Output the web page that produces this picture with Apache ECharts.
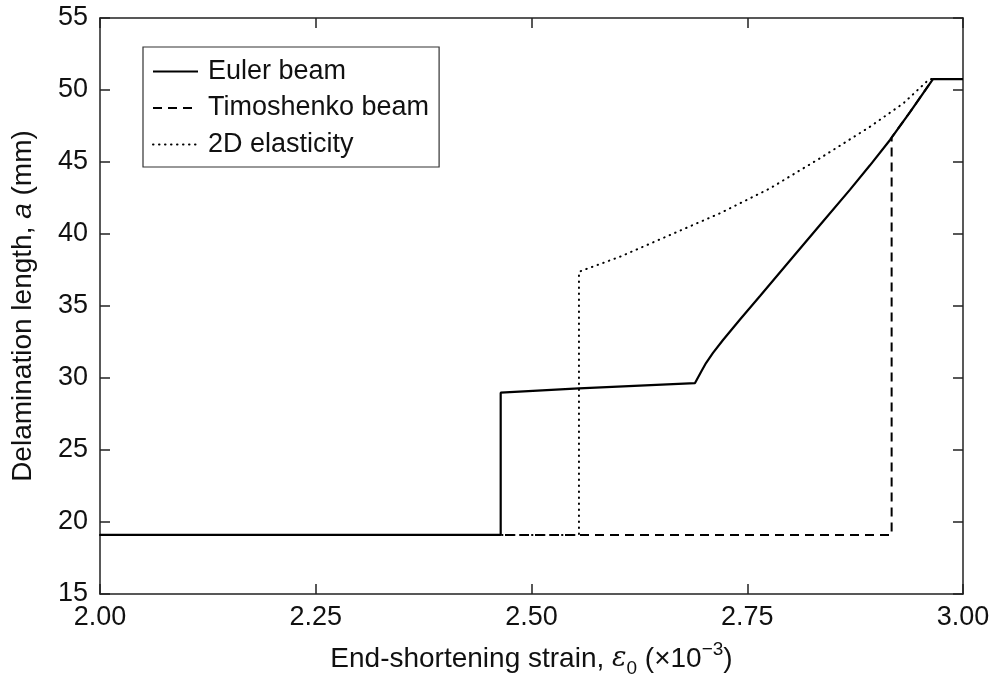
<!DOCTYPE html>
<html>
<head>
<meta charset="utf-8">
<script src="https://cdn.jsdelivr.net/npm/echarts@6/dist/echarts.min.js"></script>
<style>html,body{margin:0;padding:0;background:#fff}#c{width:995px;height:682px}</style>
</head>
<body>
<div id="c"></div>
<script>
// ---- data ----
var seriesNames = ['Euler beam', 'Timoshenko beam', '2D elasticity'];
var eulerX = [2.00, 2.4643, 2.4643, 2.555, 2.6895, 2.6964, 2.7022, 2.7103, 2.7219, 2.7416, 2.7648, 2.7995, 2.8343, 2.8691, 2.8922, 2.9154, 2.9386, 2.9652, 3.00];
var eulerY = [19.1, 19.1, 28.98, 29.28, 29.65, 30.42, 31.04, 31.74, 32.64, 34.06, 35.69, 38.16, 40.63, 43.08, 44.77, 46.53, 48.47, 50.76, 50.76];
var timoX = [2.00, 2.9173, 2.9173, 2.9386, 2.9652, 3.00];
var timoY = [19.1, 19.1, 46.70, 48.47, 50.76, 50.76];
var elasX = [2.00, 2.555, 2.555, 2.6025, 2.6605, 2.7184, 2.7764, 2.8343, 2.8922, 2.9308, 2.9598, 2.963, 3.00];
var elasY = [19.1, 19.1, 37.38, 38.42, 39.93, 41.44, 43.17, 45.26, 47.45, 49.07, 50.69, 50.76, 50.76];
var xTickLabels = ['2.00', '2.25', '2.50', '2.75', '3.00'];
var yTickLabels = ['15', '20', '25', '30', '35', '40', '45', '50', '55'];

function pairs(xs, ys) { return xs.map(function (x, i) { return [x, ys[i]]; }); }

var FONT = 'Liberation Sans';
var axisCol = '#222';
var chart = echarts.init(document.getElementById('c'), null, { renderer: 'canvas' });

var baseX = {
  type: 'value', min: 2.0, max: 3.0, interval: 0.25,
  axisLine: { show: true, onZero: false, lineStyle: { color: axisCol, width: 1.5 } },
  axisTick: { show: true, inside: true, length: 10, lineStyle: { color: axisCol, width: 1.5 } },
  splitLine: { show: false }
};
var baseY = {
  type: 'value', min: 15, max: 55, interval: 5,
  axisLine: { show: true, onZero: false, lineStyle: { color: axisCol, width: 1.5 } },
  axisTick: { show: true, inside: true, length: 10, lineStyle: { color: axisCol, width: 1.5 } },
  splitLine: { show: false }
};

var option = {
  animation: false,
  backgroundColor: '#fff',
  color: ['#000', '#000', '#000'],
  grid: { left: 100, top: 18, right: 32, bottom: 88, containLabel: false, outerBoundsMode: 'none' },
  legend: {
    orient: 'vertical', left: 143, top: 47,
    backgroundColor: '#fff',
    borderColor: '#333', borderWidth: 1.2, borderRadius: 0,
    padding: [11, 10, 9, 9],
    itemWidth: 45, itemHeight: 22, itemGap: 9.5,
    itemStyle: { color: 'rgba(0,0,0,0)', borderColor: 'rgba(0,0,0,0)', borderWidth: 0 },
    textStyle: { fontFamily: FONT, fontSize: 27, color: '#111', padding: [0, 0, 0, 5] },
    data: seriesNames
  },
  xAxis: [
    Object.assign({}, baseX, {
      position: 'bottom',
      axisLabel: {
        show: true, margin: 10, fontFamily: FONT, fontSize: 27, color: '#111',
        formatter: function (v) { return xTickLabels[Math.round((v - 2.0) / 0.25)]; }
      },
      name: '{t|End-shortening strain, }{i|ε}{s|0}{t| (×10}{p|−3}{t|)}',
      nameLocation: 'middle', nameGap: 46,
      nameTextStyle: {
        fontFamily: FONT, fontSize: 28, color: '#111',
        rich: {
          t: { fontFamily: FONT, fontSize: 28, color: '#111', lineHeight: 38 },
          i: { fontFamily: 'DejaVu Serif', fontStyle: 'italic', fontSize: 27, color: '#111', lineHeight: 38 },
          s: { fontFamily: FONT, fontSize: 19, color: '#111', lineHeight: 21, verticalAlign: 'bottom' },
          p: { fontFamily: FONT, fontSize: 19, color: '#111', lineHeight: 21, verticalAlign: 'top' }
        }
      }
    }),
    Object.assign({}, baseX, { position: 'top', axisLabel: { show: false } })
  ],
  yAxis: [
    Object.assign({}, baseY, {
      position: 'left',
      axisLabel: {
        show: true, margin: 12, fontFamily: FONT, fontSize: 27, color: '#111',
        formatter: function (v) { return yTickLabels[Math.round((v - 15) / 5)]; }
      },
      name: '{t|Delamination length, }{i|a}{t| (mm)}',
      nameLocation: 'middle', nameGap: 63,
      nameTextStyle: {
        fontFamily: FONT, fontSize: 28, color: '#111',
        rich: {
          t: { fontFamily: FONT, fontSize: 28, color: '#111' },
          i: { fontFamily: FONT, fontStyle: 'italic', fontSize: 28, color: '#111' }
        }
      }
    }),
    Object.assign({}, baseY, { position: 'right', axisLabel: { show: false } })
  ],
  series: [
    {
      name: '2D elasticity', type: 'line', data: pairs(elasX, elasY),
      xAxisIndex: 0, yAxisIndex: 0, showSymbol: false, symbol: 'none', z: 2,
      itemStyle: { color: '#000' },
      lineStyle: { color: '#000', width: 2, type: [0.5, 5.5], cap: 'round' }
    },
    {
      name: 'Timoshenko beam', type: 'line', data: pairs(timoX, timoY),
      xAxisIndex: 0, yAxisIndex: 0, showSymbol: false, symbol: 'none', z: 3,
      itemStyle: { color: '#000' },
      lineStyle: { color: '#000', width: 2, type: [9, 6] }
    },
    {
      name: 'Euler beam', type: 'line', data: pairs(eulerX, eulerY),
      xAxisIndex: 0, yAxisIndex: 0, showSymbol: false, symbol: 'none', z: 4,
      itemStyle: { color: '#000' },
      lineStyle: { color: '#000', width: 2.2, type: 'solid' }
    }
  ]
};
chart.setOption(option);
</script>
</body>
</html>
